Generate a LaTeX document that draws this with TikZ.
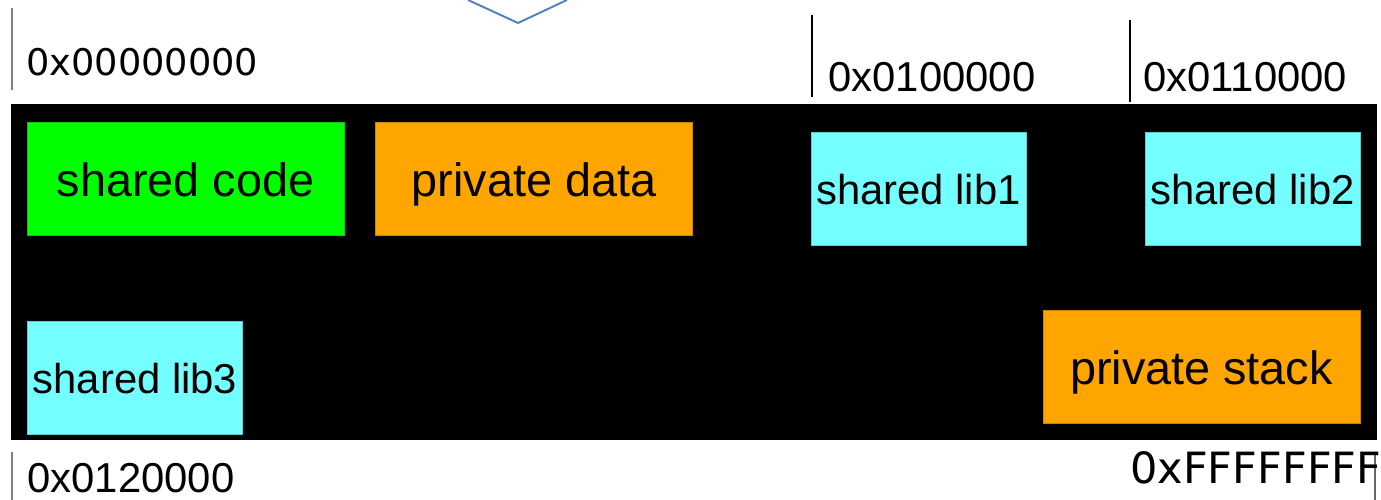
\documentclass[tikz,border=0pt]{standalone}
\usepackage{fontspec}
\setmainfont{Liberation Sans}
\newfontfamily\dejavu{DejaVu Sans}
\usetikzlibrary{positioning}
\definecolor{codegreen}{HTML}{00FF00}
\definecolor{libcyan}{HTML}{73FFFF}
\definecolor{dataorange}{HTML}{FFA500}
\definecolor{chevblue}{HTML}{4F81BD}

\begin{document}
\begin{tikzpicture}[
    every node/.style={inner sep=0pt},
    bigbox/.style={rectangle, draw=#1!80!black, fill=#1, minimum width=6.34cm,
        minimum height=2.26cm, text height=0.92cm, text depth=0.2cm,
        font=\fontsize{26.6}{32}\selectfont},
    libbox/.style={rectangle, draw=libcyan!80!black, fill=libcyan, minimum width=4.3cm,
        minimum height=2.26cm, text height=0.86cm, text depth=0.2cm,
        font=\fontsize{23.8}{28}\selectfont},
    addr/.style={anchor=base west, font=\fontsize{23.8}{28}\selectfont},
    addrline/.style={line width=0.6pt},
]
\useasboundingbox (0,0) rectangle (27.62,10);

% Chevron at the top
\draw[chevblue, line width=1.1pt] (9.36,10) -- (10.36,9.54) -- (11.34,10);

% Address space
\fill[black] (0.22,1.2) rectangle (27.54,7.92);

% Segments
\node[bigbox=codegreen] (code) at (3.71,6.43) {shared code};
\node[bigbox=dataorange] (data) at (10.68,6.43) {private data};
\node[libbox] (lib1) at (18.37,6.23) {shared lib1};
\node[libbox] (lib2) at (25.05,6.23) {shared lib2};
\node[libbox] (lib3) at (2.70,2.45) {shared lib3};
\node[bigbox=dataorange] (stack) at (24.03,2.66) {private stack};

% Addresses
\draw[addrline, black!50] (0.24,9.84) -- (0.24,8.2);
\node[addr, font=\dejavu\fontsize{20.9}{24}\selectfont] (a0) at (0.52,8.48) {0x00000000};
\draw[addrline] (16.24,9.7) -- (16.24,8.06);
\node[addr] (a1) at (16.56,8.16) {0x0100000};
\draw[addrline] (22.6,9.6) -- (22.6,7.96);
\node[addr] (a2) at (22.86,8.16) {0x0110000};
\draw[addrline, black!50] (0.24,0.96) -- (0.24,0);
\node[addr] (a3) at (0.54,0.14) {0x0120000};
\draw[addrline, black!60] (27.5,0.9) -- (27.5,0);
\node[addr, font=\dejavu\fontsize{24.5}{28}\selectfont] (a4) at (22.6,0.32) {0xFFFFFFFF};
\end{tikzpicture}
\end{document}
